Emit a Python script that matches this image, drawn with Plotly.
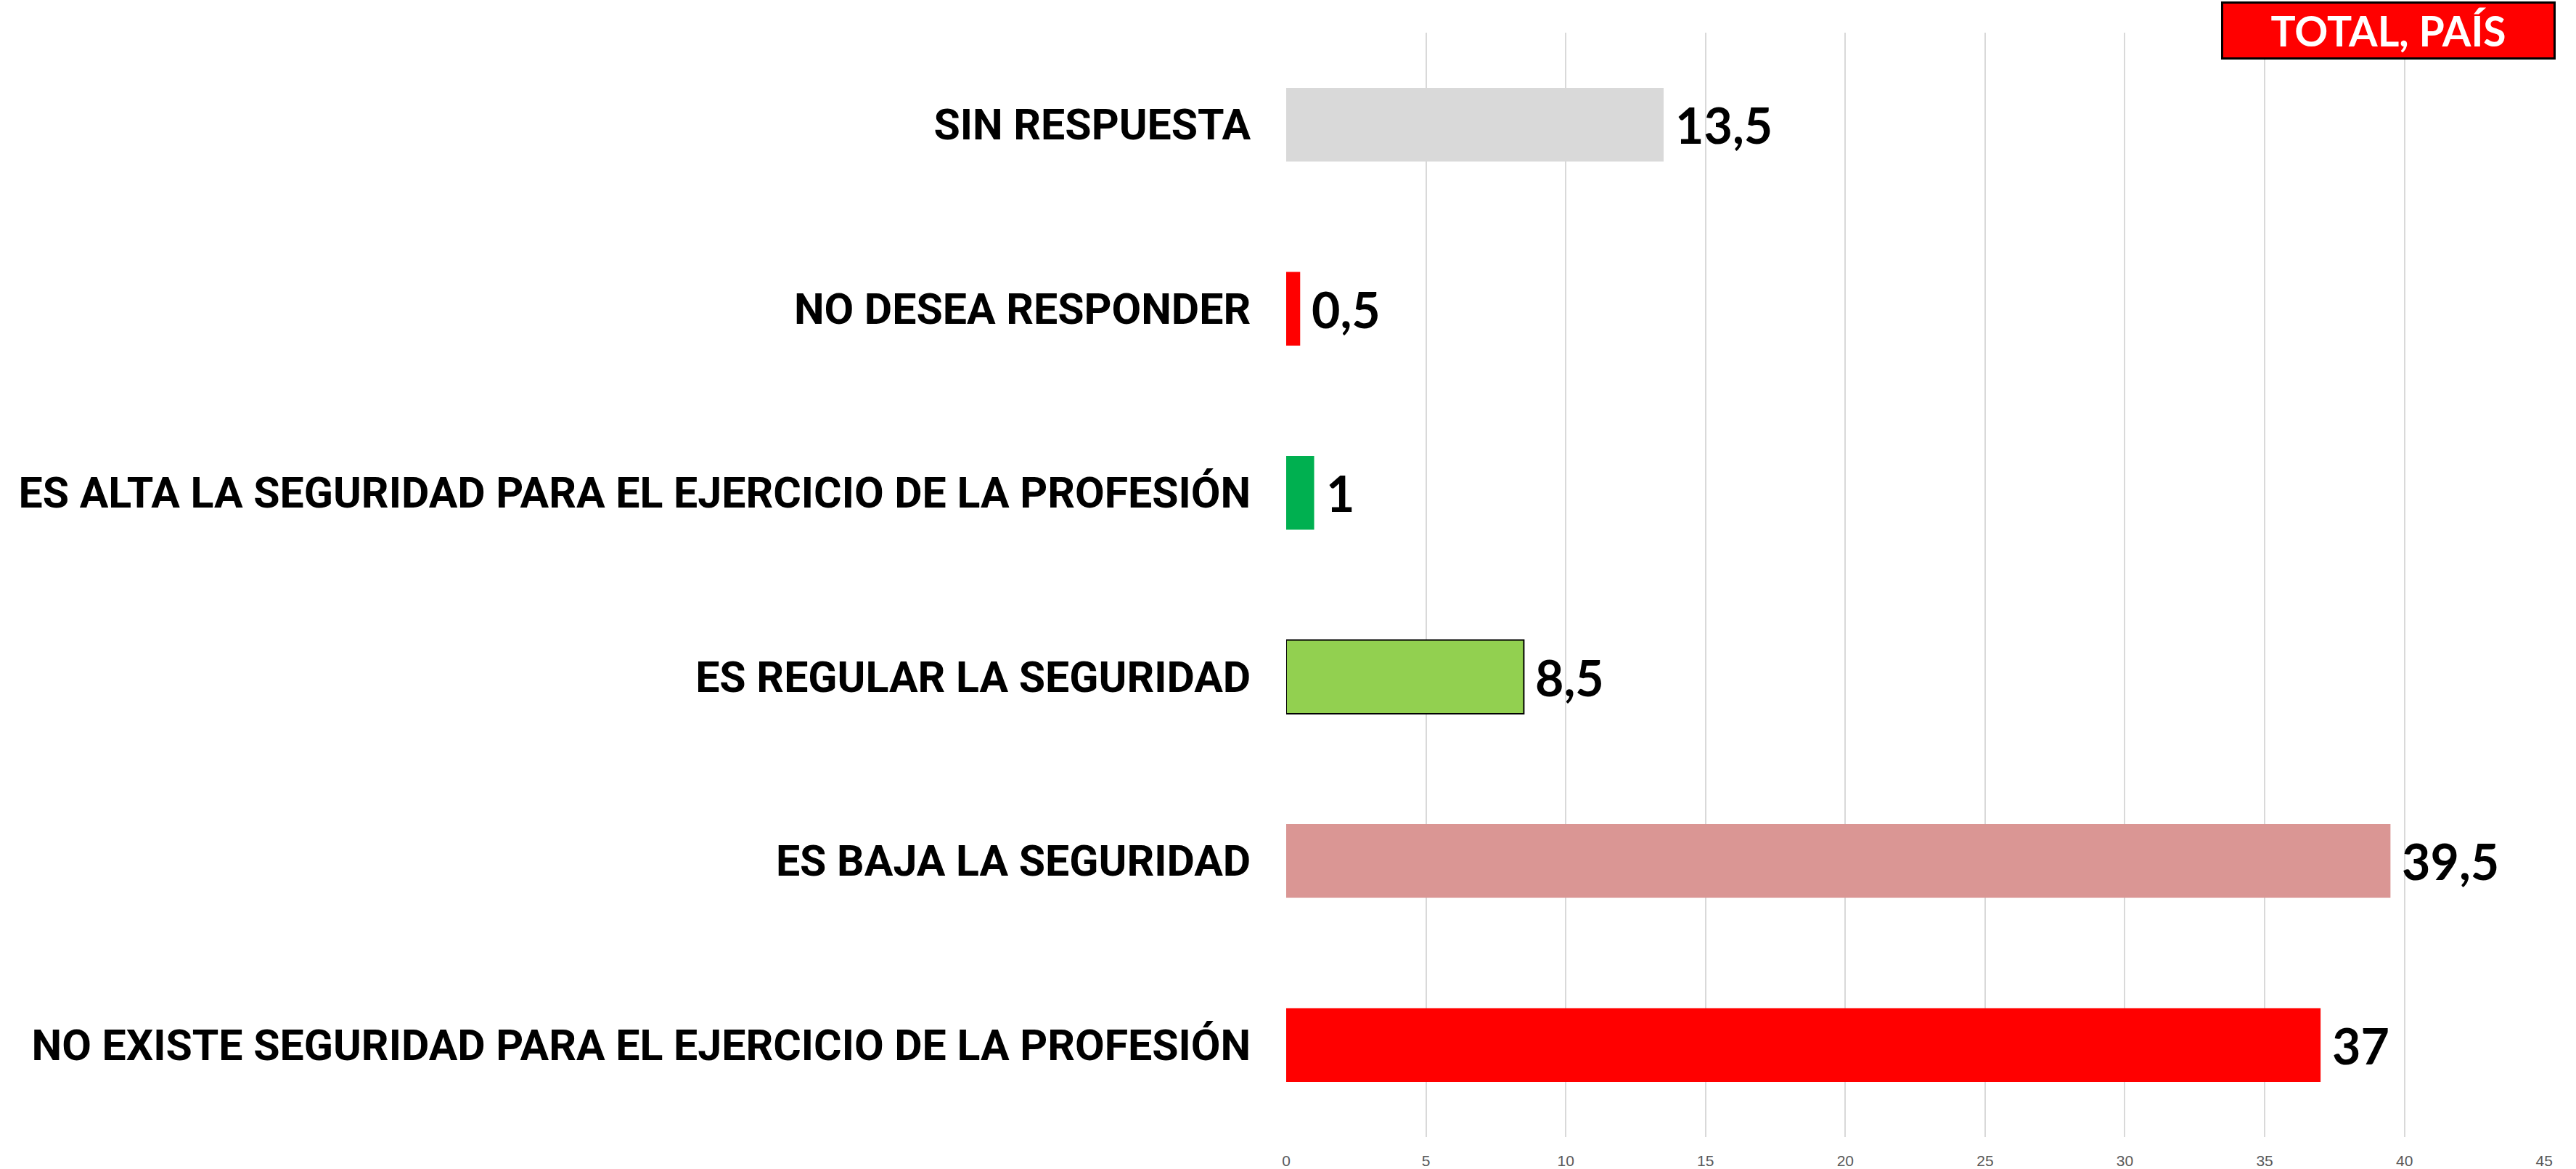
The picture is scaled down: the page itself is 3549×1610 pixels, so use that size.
import plotly.graph_objects as go

categories = [
    "NO EXISTE SEGURIDAD PARA EL EJERCICIO DE LA PROFESIÓN",
    "ES BAJA LA SEGURIDAD",
    "ES REGULAR LA SEGURIDAD",
    "ES ALTA LA SEGURIDAD PARA EL EJERCICIO DE LA PROFESIÓN",
    "NO DESEA RESPONDER",
    "SIN RESPUESTA",
]
values = [37, 39.5, 8.5, 1, 0.5, 13.5]
value_labels = ["37", "39,5", "8,5", "1", "0,5", "13,5"]
bar_colors = ["#FF0000", "#DA9694", "#92D050", "#00B050", "#FF0000", "#D9D9D9"]
outline_widths = [0, 0, 2, 0, 0, 0]
x_ticks = [0, 5, 10, 15, 20, 25, 30, 35, 40, 45]
title_text = "TOTAL, PAÍS"

fig = go.Figure()
fig.add_trace(go.Bar(
    y=categories,
    x=values,
    orientation="h",
    marker=dict(color=bar_colors, line=dict(color="#000000", width=outline_widths)),
    hoverinfo="skip",
))

for cat, v, lab in zip(categories, values, value_labels):
    fig.add_annotation(
        x=v, y=cat, xref="x", yref="y",
        text=f"<b>{lab}</b>", showarrow=False,
        xanchor="left", yanchor="middle", xshift=14,
        font=dict(family="Lato, Carlito, sans-serif", size=68, color="#000000"),
    )

fig.add_annotation(
    x=0.8757, y=1.002, xref="paper", yref="paper",
    text=f"<b>{title_text}</b>", showarrow=False,
    xanchor="center", yanchor="middle",
    width=455, height=74, borderpad=0,
    bgcolor="#FF0000", bordercolor="#000000", borderwidth=3,
    font=dict(family="Lato, Carlito, sans-serif", size=57, color="#FFFFFF"),
)

fig.update_layout(
    width=3549, height=1610,
    margin=dict(l=1772, r=43, t=45, b=44),
    paper_bgcolor="#FFFFFF", plot_bgcolor="#FFFFFF",
    bargap=0.6,
    showlegend=False,
    xaxis=dict(
        range=[0, 45.02], tickvals=x_ticks, ticktext=[str(t) for t in x_ticks],
        showgrid=True, gridcolor="#D9D9D9", gridwidth=2,
        zeroline=False, showline=False, automargin=False,
        ticks="outside", ticklen=14, tickcolor="rgba(0,0,0,0)",
        tickfont=dict(family="Liberation Sans, Arial, sans-serif", size=21, color="#595959"),
    ),
    yaxis=dict(
        categoryorder="array", categoryarray=categories,
        showgrid=False, zeroline=False, showline=False, automargin=False,
        ticks="outside", ticklen=36, tickcolor="rgba(0,0,0,0)",
        tickprefix="<b>", ticksuffix="</b>",
        tickfont=dict(family="Roboto, Liberation Sans, sans-serif", size=59, color="#000000"),
    ),
)

fig.write_html(
    "out.html",
    config={"displayModeBar": False},
    post_script="document.body.style.margin='0';document.body.style.padding='0';document.body.style.overflow='hidden';",
)
